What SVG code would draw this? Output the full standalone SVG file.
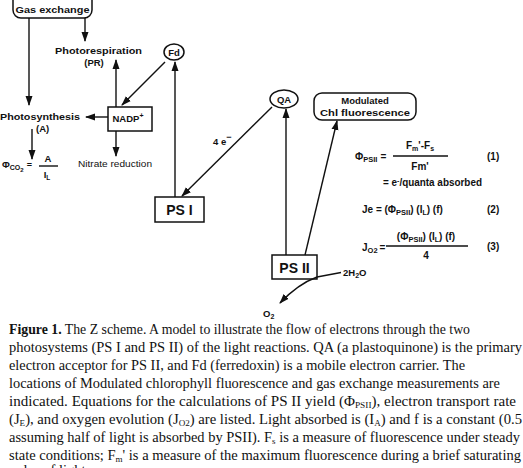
<svg xmlns="http://www.w3.org/2000/svg" width="523" height="468" viewBox="0 0 523 468">
<style>
.lbl{font-family:"Liberation Sans",Arial,sans-serif;font-weight:bold;font-size:9.5px;fill:#111}
.sm{font-size:8.5px;font-weight:normal}
.ps{font-family:"Liberation Sans",Arial,sans-serif;font-weight:bold;font-size:14px;fill:#111}
.eq{font-family:"Liberation Sans",Arial,sans-serif;font-weight:bold;font-size:10px;fill:#111}
.cap{font-family:"Liberation Serif","Times New Roman",serif;font-size:14.5px;fill:#111}
.box{fill:#fff;stroke:#111;stroke-width:1.5}
.ln{fill:none;stroke:#111;stroke-width:1.4}
.conn line,.conn path{fill:none;stroke:#111;stroke-width:1.4}
.arr{marker-end:url(#ah)}
</style>
<defs>
<marker id="ah" viewBox="0 0 10 8" refX="9" refY="4" markerWidth="10" markerHeight="8" markerUnits="userSpaceOnUse" orient="auto">
<path d="M0,0.5 L10,4 L0,7.5 z" fill="#111"/>
</marker>
</defs>
<rect width="523" height="468" fill="#fff"/>

<g id="gas-exchange">
<rect class="box" x="13" y="-8" width="79" height="26" rx="8"/>
<text class="lbl" x="52.5" y="13" text-anchor="middle" font-size="10px" textLength="74" lengthAdjust="spacingAndGlyphs">Gas exchange</text>
</g>
<g id="photorespiration">
<text class="lbl" x="55" y="54" textLength="87" lengthAdjust="spacingAndGlyphs">Photorespiration</text>
<text class="lbl" x="94" y="66" text-anchor="middle">(PR)</text>
</g>
<g id="fd">
<ellipse class="box" cx="174" cy="52" rx="10" ry="8"/>
<text class="lbl" x="174" y="55.5" text-anchor="middle">Fd</text>
</g>
<g id="photosynthesis">
<text class="lbl" x="0" y="120" font-size="10px" textLength="80" lengthAdjust="spacingAndGlyphs">Photosynthesis</text>
<text class="lbl" x="36" y="132">(A)</text>
</g>
<g id="nadp">
<rect class="box" x="108" y="107" width="44" height="24"/>
<text class="lbl" x="128" y="122" text-anchor="middle" font-size="10px">NADP<tspan dy="-4" font-size="7px">+</tspan></text>
</g>
<g id="nitrate">
<text class="lbl sm" x="78" y="167" textLength="74" lengthAdjust="spacingAndGlyphs">Nitrate reduction</text>
</g>
<g id="phi-co2">
<text class="lbl" x="2" y="168" font-size="9px">Φ<tspan dy="2" font-size="7px">CO</tspan><tspan dy="1.5" font-size="6px">2</tspan><tspan dy="-3.5" dx="3" font-size="9px">=</tspan></text>
<text class="lbl" x="48" y="162" text-anchor="middle">A</text>
<line class="ln" x1="39" y1="166" x2="58" y2="166" stroke-width="1"/>
<text class="lbl" x="47" y="178" text-anchor="middle" font-size="9px">I<tspan dy="1.5" font-size="6.5px">L</tspan></text>
</g>
<g id="ps1">
<rect class="box" x="155" y="197" width="49" height="25"/>
<text class="ps" x="179.5" y="215" text-anchor="middle">PS I</text>
</g>
<g id="qa">
<ellipse class="box" cx="284" cy="99" rx="14" ry="9"/>
<text class="lbl" x="284" y="102.5" text-anchor="middle">QA</text>
</g>
<g id="modulated">
<rect class="box" x="314" y="93" width="102" height="27" rx="8"/>
<text class="lbl" x="365" y="104" text-anchor="middle">Modulated</text>
<text class="lbl" x="365" y="116" text-anchor="middle" textLength="90" lengthAdjust="spacingAndGlyphs">Chl fluorescence</text>
</g>
<g id="ps2">
<rect class="box" x="272" y="255" width="45" height="24"/>
<text class="ps" x="294.5" y="273" text-anchor="middle">PS II</text>
</g>
<g id="water">
<text class="lbl" x="343" y="276">2H<tspan dy="1.5" font-size="7px">2</tspan><tspan dy="-1.5">O</tspan></text>
<text class="lbl" x="263" y="317">O<tspan dy="1.5" font-size="7px">2</tspan></text>
</g>
<g id="label-4e">
<text class="lbl" x="213" y="145" font-size="12px">4 e<tspan dy="-5" font-size="9px">−</tspan></text>
</g>
<g id="equations">
<text class="eq" x="355" y="160">Φ<tspan dy="2" font-size="7.5px">PSII</tspan><tspan dy="-2" dx="3">=</tspan></text>
<text class="eq" x="420" y="149" text-anchor="middle">F<tspan dy="1.5" font-size="7px">m</tspan><tspan dy="-1.5">'-F</tspan><tspan dy="1.5" font-size="7px">s</tspan></text>
<line class="ln" x1="393" y1="156" x2="448" y2="156" stroke-width="1"/>
<text class="eq" x="420" y="170" text-anchor="middle">Fm'</text>
<text class="eq" x="487" y="160">(1)</text>
<text class="eq" x="383" y="186" textLength="99" lengthAdjust="spacingAndGlyphs">= e<tspan dy="-3" font-size="7px">-</tspan><tspan dy="3">/quanta absorbed</tspan></text>
<text class="eq" x="362" y="213">Je = (Φ<tspan dy="1.5" font-size="7.5px">PSII</tspan><tspan dy="-1.5">) (I</tspan><tspan dy="1.5" font-size="7px">L</tspan><tspan dy="-1.5">) (f)</tspan></text>
<text class="eq" x="487" y="213">(2)</text>
<text class="eq" x="362" y="251">J<tspan dy="2" font-size="7.5px">O2</tspan><tspan dy="-2" dx="2">=</tspan></text>
<text class="eq" x="426" y="240" text-anchor="middle">(Φ<tspan dy="1.5" font-size="7.5px">PSII</tspan><tspan dy="-1.5">) (I</tspan><tspan dy="1.5" font-size="7px">L</tspan><tspan dy="-1.5">) (f)</tspan></text>
<line class="ln" x1="386" y1="246" x2="468" y2="246" stroke-width="1"/>
<text class="eq" x="426" y="259" text-anchor="middle">4</text>
<text class="eq" x="487" y="250">(3)</text>
</g>

<g id="connectors" class="conn">
<line class="arr" x1="29" y1="18" x2="29" y2="105"/>
<line class="arr" x1="85" y1="18" x2="85" y2="41"/>
<line class="arr" x1="116" y1="107" x2="116" y2="60"/>
<line class="arr" x1="165" y1="62" x2="122" y2="105"/>
<line class="arr" x1="108" y1="117" x2="86" y2="117"/>
<line class="arr" x1="116" y1="131" x2="116" y2="156"/>
<line class="arr" x1="32" y1="129" x2="32" y2="159"/>
<line class="arr" x1="175" y1="197" x2="175" y2="62"/>
<line class="arr" x1="272" y1="107" x2="182" y2="196"/>
<line class="arr" x1="286" y1="255" x2="286" y2="109"/>
<line class="arr" x1="305" y1="255" x2="337" y2="121"/>
<line x1="341" y1="272.5" x2="317" y2="277"/>
<path class="arr" d="M317,277 Q298,284 280,303"/>
</g>

<g id="caption" xml:space="preserve">
<text class="cap" x="9" y="334" textLength="461" lengthAdjust="spacingAndGlyphs"><tspan font-weight="bold">Figure 1.</tspan>  The Z scheme.  A model to illustrate the flow of electrons through the two</text>
<text class="cap" x="9" y="352" textLength="513" lengthAdjust="spacingAndGlyphs">photosystems (PS I and PS II) of the light reactions.  QA (a plastoquinone) is the primary</text>
<text class="cap" x="9" y="370" textLength="456" lengthAdjust="spacingAndGlyphs">electron acceptor for PS II, and Fd (ferredoxin) is a mobile electron carrier.  The</text>
<text class="cap" x="9" y="388" textLength="491" lengthAdjust="spacingAndGlyphs">locations of Modulated chlorophyll fluorescence and gas exchange measurements are</text>
<text class="cap" x="9" y="406" textLength="507" lengthAdjust="spacingAndGlyphs">indicated.  Equations for the calculations of PS II yield (Φ<tspan font-size="9px" dy="2">PSII</tspan><tspan dy="-2">), electron transport rate</tspan></text>
<text class="cap" x="9" y="424" textLength="513" lengthAdjust="spacingAndGlyphs">(J<tspan font-size="9px" dy="2">E</tspan><tspan dy="-2">), and oxygen evolution (J</tspan><tspan font-size="9px" dy="2">O2</tspan><tspan dy="-2">) are listed.  Light absorbed is (I</tspan><tspan font-size="9px" dy="2">A</tspan><tspan dy="-2">) and f is a constant (0.5</tspan></text>
<text class="cap" x="9" y="442" textLength="511" lengthAdjust="spacingAndGlyphs">assuming half of light is absorbed by PSII).  F<tspan font-size="9px" dy="2">s</tspan><tspan dy="-2"> is a measure of fluorescence under steady</tspan></text>
<text class="cap" x="9" y="460" textLength="512" lengthAdjust="spacingAndGlyphs">state conditions;  F<tspan font-size="9px" dy="2">m</tspan><tspan dy="-2">' is a measure of the maximum fluorescence during a brief saturating</tspan></text>
<text class="cap" x="9" y="475">pulse of light</text>
</g>
</svg>
